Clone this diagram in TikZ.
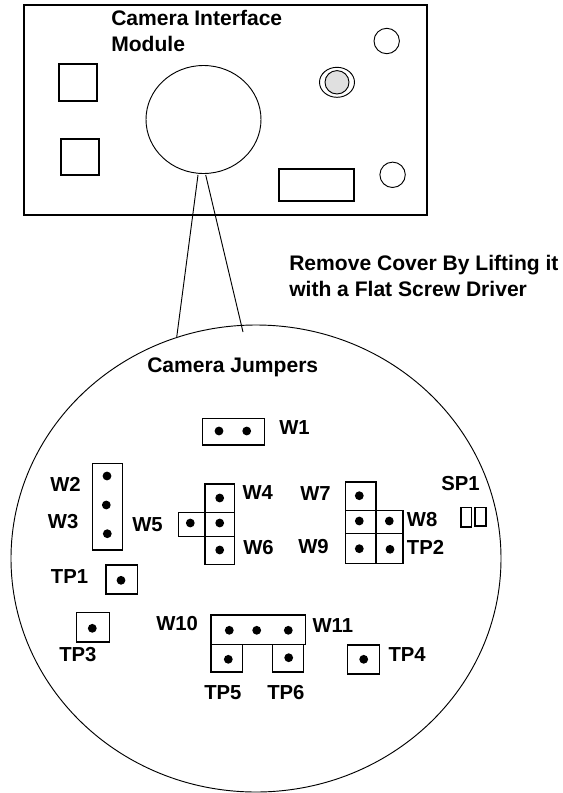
\documentclass[tikz,border=0pt]{standalone}
\usepackage{fontspec}
\setmainfont{Liberation Sans}
\tikzset{
 x=0.75pt,y=-0.75pt,
 boxline/.style={draw,line width=1.15pt},
 thinline/.style={draw,line width=0.7pt},
 pin/.style={circle,fill=black,inner sep=0pt,minimum width=6.6pt},
 lab/.style={font=\bfseries\fontsize{15.2}{18}\selectfont,inner sep=0pt,anchor=base west},
 head/.style={font=\bfseries\fontsize{15.8}{19}\selectfont,inner sep=0pt,anchor=base west},
}
\begin{document}
\begin{tikzpicture}
\useasboundingbox (0,0) rectangle (562,793);
\fill[white] (0,0) rectangle (562,793);
\draw[line width=1.35pt] (24,5) rectangle (427,215);
\node[head] (title1) at (111,25) {Camera Interface};
\node[head] (title2) at (111,51) {Module};
\draw[boxline] (59,64) rectangle (97,101);
\draw[boxline] (61,139) rectangle (99,175);
\draw[boxline] (279,169) rectangle (354,201);
\draw[thinline] (203.5,119.5) ellipse (57.5 and 54);
\coordinate (a1) at (198,175);
\coordinate (a2) at (205.7,175);
\draw[thinline] (386.7,41) circle (12.7);
\draw[thinline] (392.6,174.8) circle (12.7);
\draw[thinline] (337,82.3) ellipse (17.5 and 15);
\draw[thinline,fill=black!12] (337,82.3) ellipse (12 and 11.7);
\coordinate (b1) at (176.6,338);
\coordinate (b2) at (243,332);
\draw[thinline] (a1) -- (b1);
\draw[thinline] (a2) -- (b2);
\node[head] (rem1) at (289,270) {Remove Cover By Lifting it};
\node[head] (rem2) at (289,296) {with a Flat Screw Driver};
\draw[thinline] (256,558.5) ellipse (245 and 233.5);
\node[head] (cj) at (147,372.7) {Camera Jumpers};
% W1
\draw[boxline] (202.7,418.7) rectangle (264.3,445);
\node[pin] (p1) at (219,431) {}; \node[pin] (p2) at (246.7,431) {};
\node[lab] (w1) at (279,434) {W1};
% W2/3
\draw[boxline] (92.7,463.7) rectangle (122.3,550);
\node[pin] (p3) at (107,476) {}; \node[pin] (p4) at (106.3,505) {}; \node[pin] (p5) at (107.3,533.7) {};
\node[lab] (w2) at (50,491) {W2};
\node[lab] (w3) at (47.7,528) {W3};
\node[lab] (w5) at (132,531) {W5};
% W4-6
\draw[boxline] (205,484) rectangle (234.7,512.7);
\draw[boxline] (178.7,512.7) rectangle (205,536.7);
\draw[boxline] (205,512.7) rectangle (234.7,536.7);
\draw[boxline] (205,536.7) rectangle (234.7,564.7);
\node[pin] (p6) at (219.7,498) {}; \node[pin] (p7) at (190.3,523) {}; \node[pin] (p8) at (219.7,523) {}; \node[pin] (p9) at (219.7,550) {};
\node[lab] (w4) at (242.3,499) {W4};
\node[lab] (w6) at (243,554) {W6};
% W7-9
\draw[boxline] (345.7,482) rectangle (376,510.3);
\draw[boxline] (345.7,510.3) rectangle (376,533.3);
\draw[boxline] (376,510.3) rectangle (403,533.3);
\draw[boxline] (345.7,533.3) rectangle (376,563.3);
\draw[boxline] (376,533.3) rectangle (403,563.3);
\node[pin] (p10) at (359.3,495.7) {}; \node[pin] (p11) at (359.3,521) {}; \node[pin] (p12) at (389.3,521) {}; \node[pin] (p13) at (359.3,548.7) {}; \node[pin] (p14) at (390,549.3) {};
\node[lab] (w7) at (300,500) {W7};
\node[lab] (w9) at (298,553.5) {W9};
\node[lab] (w8) at (406.7,526.7) {W8};
\node[lab] (tp2) at (406.7,554) {TP2};
\node[lab] (sp1) at (441,490.7) {SP1};
\draw[line width=0.95pt] (461,507.7) rectangle (471.7,527);
\draw[line width=0.95pt] (475,507.7) rectangle (486,526);
% TP1
\draw[boxline] (106,565) rectangle (137.3,594);
\node[pin] (p15) at (121,580.3) {};
\node[lab] (tp1) at (50.7,583) {TP1};
% TP3
\draw[boxline] (76.7,612.7) rectangle (109.3,642);
\node[pin] (p16) at (92.3,628.3) {};
\node[lab] (tp3) at (59,661) {TP3};
% W10/11
\draw[boxline] (211,615) rectangle (305.3,644.7);
\node[pin] (p17) at (229.3,630.3) {}; \node[pin] (p18) at (256.7,630.3) {}; \node[pin] (p19) at (288.3,630.3) {};
\node[lab] (w10) at (156,630) {W10};
\node[lab] (w11) at (312.3,632) {W11};
\draw[boxline] (211,644.7) rectangle (242.3,672);
\draw[boxline] (272.7,644.7) rectangle (303.3,672);
\node[pin] (p20) at (228.3,659.3) {}; \node[pin] (p21) at (288.7,657.7) {};
\node[lab] (tp5) at (204,699) {TP5};
\node[lab] (tp6) at (267,699) {TP6};
% TP4
\draw[boxline] (347.7,645) rectangle (379.3,674);
\node[pin] (p22) at (363.7,659.3) {};
\node[lab] (tp4) at (388.3,661.7) {TP4};
\end{tikzpicture}
\end{document}
